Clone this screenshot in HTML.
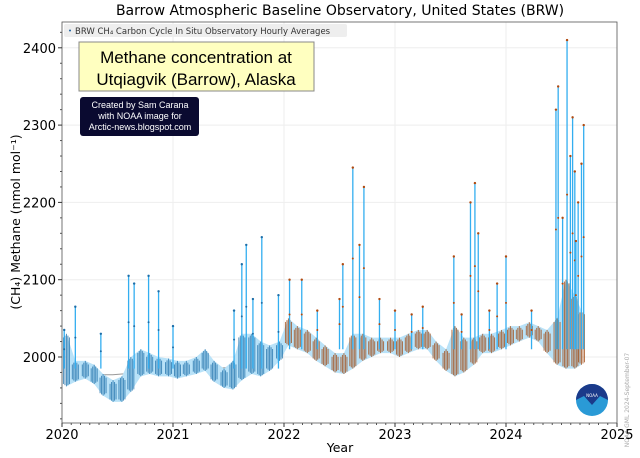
<!DOCTYPE html>
<html><head><meta charset="utf-8"><style>
body{margin:0;background:#fff;font-family:"DejaVu Sans","Liberation Sans",sans-serif}
svg{display:block}
</style></head><body>
<svg id="c" width="640" height="458" viewBox="0 0 640 458">
<text x="340" y="15" font-size="14" text-anchor="middle">Barrow Atmospheric Baseline Observatory, United States (BRW)</text>
<text x="20" y="222" font-size="12.5" text-anchor="middle" transform="rotate(-90 20 222)">(CH₄) Methane (nmol mol⁻¹)</text>
<text x="340" y="452" font-size="12.5" text-anchor="middle">Year</text>
<text x="629" y="400" font-size="6" fill="#aaa" text-anchor="middle" transform="rotate(-90 629 400)">NOAA GML 2024-September-07</text>
<g id="grid"></g><g id="marks"></g><g id="axes"></g>
<g>
<rect x="64" y="24" width="283" height="13" fill="#eee" rx="2"/>
<circle cx="70" cy="30.5" r="1" fill="#1a5fa0"/>
<text x="75" y="34" font-size="8.5" fill="#333">BRW CH₄ Carbon Cycle In Situ Observatory Hourly Averages</text>
</g>
<g>
<rect x="79" y="42" width="235" height="49" fill="#ffffc0" stroke="#888"/>
<text x="196" y="63" font-size="17" font-family="Liberation Sans,sans-serif" text-anchor="middle">Methane concentration at</text>
<text x="196" y="85" font-size="17" font-family="Liberation Sans,sans-serif" text-anchor="middle">Utqiagvik (Barrow), Alaska</text>
</g>
<g>
<rect x="80" y="97" width="119" height="39" rx="3" fill="#0a0a30"/>
<text x="140" y="108" font-size="9" fill="#fff" font-family="Liberation Sans,sans-serif" text-anchor="middle">Created by Sam Carana</text>
<text x="140" y="119" font-size="9" fill="#fff" font-family="Liberation Sans,sans-serif" text-anchor="middle">with NOAA image for</text>
<text x="140" y="130" font-size="9" fill="#fff" font-family="Liberation Sans,sans-serif" text-anchor="middle">Arctic-news.blogspot.com</text>
</g>
<g>
<circle cx="592" cy="400" r="16" fill="#2a9ad6"/>
<path d="M576,400 A16,16 0 0 1 608,400 L600,396 592,405 584,396 Z" fill="#1b3a8a"/>
<text x="592" y="397" font-size="4" fill="#fff" text-anchor="middle">NOAA</text>
</g>
</svg>
<script>
const monthTimes=[2020.04,2020.12,2020.21,2020.29,2020.37,2020.46,2020.54,2020.62,2020.71,2020.79,2020.87,2020.96,
2021.04,2021.12,2021.21,2021.29,2021.37,2021.46,2021.54,2021.62,2021.71,2021.79,2021.87,2021.96,
2022.04,2022.12,2022.21,2022.29,2022.37,2022.46,2022.54,2022.62,2022.71,2022.79,2022.87,2022.96,
2023.04,2023.12,2023.21,2023.29,2023.37,2023.46,2023.54,2023.62,2023.71,2023.79,2023.87,2023.96,
2024.04,2024.12,2024.21,2024.29,2024.37,2024.46,2024.54,2024.62,2024.68];
const monthLow=[1962,1968,1972,1965,1950,1942,1942,1955,1975,1978,1975,1975,
1972,1975,1978,1982,1968,1960,1958,1970,1978,1975,1982,1995,
2015,2010,2005,1995,1988,1980,1978,1985,1995,2000,2005,2005,
2000,2005,2010,2010,1995,1982,1975,1980,1990,2005,2005,2010,
2015,2020,2025,2020,2005,1990,1985,1985,1990];
const monthHigh=[2030,1995,1995,1990,1978,1970,1975,2000,2010,2005,2000,1998,
1995,1995,2000,2010,1995,1985,1995,2030,2030,2020,2015,2020,
2050,2040,2035,2025,2015,2005,2005,2030,2030,2025,2025,2025,
2025,2030,2035,2035,2020,2010,2040,2025,2025,2030,2030,2035,
2040,2040,2045,2040,2035,2050,2100,2080,2060];
const trendValues=[1978,1978,1977,1977,1977,1977,1978,1979,1980,1981,1982,1982,
1983,1984,1985,1986,1986,1986,1987,1988,1990,1992,1994,1996];
const spikeTimes=[2020.02,2020.12,2020.35,2020.6,2020.65,2020.78,2020.87,2021.0,2021.55,2021.62,2021.66,2021.72,2021.8,2021.95,2022.05,2022.16,2022.3,2022.5,2022.53,2022.62,2022.68,2022.72,2022.86,2023.0,2023.15,2023.25,2023.53,2023.6,2023.68,2023.72,2023.75,2023.85,2023.92,2024.0,2024.23,2024.45,2024.47,2024.51,2024.55,2024.58,2024.6,2024.62,2024.63,2024.65,2024.68,2024.7];
const spikeValues=[2035,2065,2030,2105,2095,2105,2085,2040,2060,2120,2145,2075,2155,2080,2100,2100,2060,2075,2120,2245,2145,2220,2075,2060,2055,2065,2130,2055,2200,2225,2160,2060,2095,2130,2060,2320,2350,2180,2410,2260,2310,2240,2150,2200,2250,2300];
const xTicks=[2020,2021,2022,2023,2024,2025];
const yTicks=[2000,2100,2200,2300,2400];
const L=62,R=617,T=22,B=423;
const X=t=>L+(t-2020)*(R-L)/5;
const Y=v=>357-(v-2000)*0.773;
const NS="http://www.w3.org/2000/svg";
function mk(tag,attrs,parent){const e=document.createElementNS(NS,tag);for(const k in attrs)e.setAttribute(k,attrs[k]);document.getElementById(parent).appendChild(e);return e;}
xTicks.forEach(t=>{const g=mk('line',{x1:X(t),x2:X(t),y1:T,y2:B,stroke:'#eee'},'grid');

});
yTicks.forEach(v=>{const g=mk('line',{x1:L,x2:R,y1:Y(v),y2:Y(v),stroke:'#eee'},'grid');

});
let tp=trendValues.map((v,i)=>X(2020+i/12+0.04)+','+Y(v)).join(' ');
const tr=mk('polyline',{points:tp,fill:'none',stroke:'#999','stroke-width':1},'marks');


const env=monthTimes.map((t,i)=>X(t)+','+Y(monthHigh[i])).concat(monthTimes.map((t,i)=>X(t)+','+Y(monthLow[i])).reverse()).join(' ');
const ep=mk('polygon',{points:env,fill:'#b9e2f8',stroke:'none'},'marks');


monthTimes.forEach((t,i)=>{const c=t<2022?'#1c6ea8':'#a0480f';
for(let k=-3;k<=3;k+=1.5){
const s=mk('line',{x1:X(t)+k,x2:X(t)+k,y1:Y(monthHigh[i])+Math.abs(k)*1.2,y2:Y(monthLow[i])-Math.abs(k)*0.8,stroke:c,'stroke-width':1,opacity:0.75},'marks');

}});
spikeTimes.forEach((t,i)=>{const c=t<2022?'#1c6ea8':'#b04a10';
const base=t<2022?1985:2010;
const s=mk('line',{x1:X(t),x2:X(t),y1:Y(base),y2:Y(spikeValues[i]),stroke:'#33aef0','stroke-width':1.3},'marks');


const d=mk('circle',{cx:X(t),cy:Y(spikeValues[i]),r:1.2,fill:c},'marks');


const d2=mk('circle',{cx:X(t),cy:(Y(spikeValues[i])+Y(base))/2,r:1,fill:c},'marks');

});
const fr=mk('rect',{x:L,y:T,width:R-L,height:B-T,fill:'none',stroke:'#555','stroke-width':0.8},'axes');


xTicks.forEach(t=>{mk('line',{x1:X(t),x2:X(t),y1:B,y2:B+4,stroke:'#333'},'axes');
const tx=mk('text',{x:X(t),y:B+16,'font-size':13,'text-anchor':'middle'},'axes');tx.textContent=t;

});
for(let m=1;m<60;m++){if(m%12)mk('line',{x1:X(2020+m/12),x2:X(2020+m/12),y1:B,y2:B+2,stroke:'#555'},'axes');}
yTicks.forEach(v=>{mk('line',{x1:L-4,x2:L,y1:Y(v),y2:Y(v),stroke:'#333'},'axes');
const tx=mk('text',{x:L-6,y:Y(v)+5,'font-size':13,'text-anchor':'end'},'axes');tx.textContent=v;

});
for(let v=1920;v<=2420;v+=20){if(v%100)mk('line',{x1:L-2,x2:L,y1:Y(v),y2:Y(v),stroke:'#555'},'axes');}
</script>
</body></html>
